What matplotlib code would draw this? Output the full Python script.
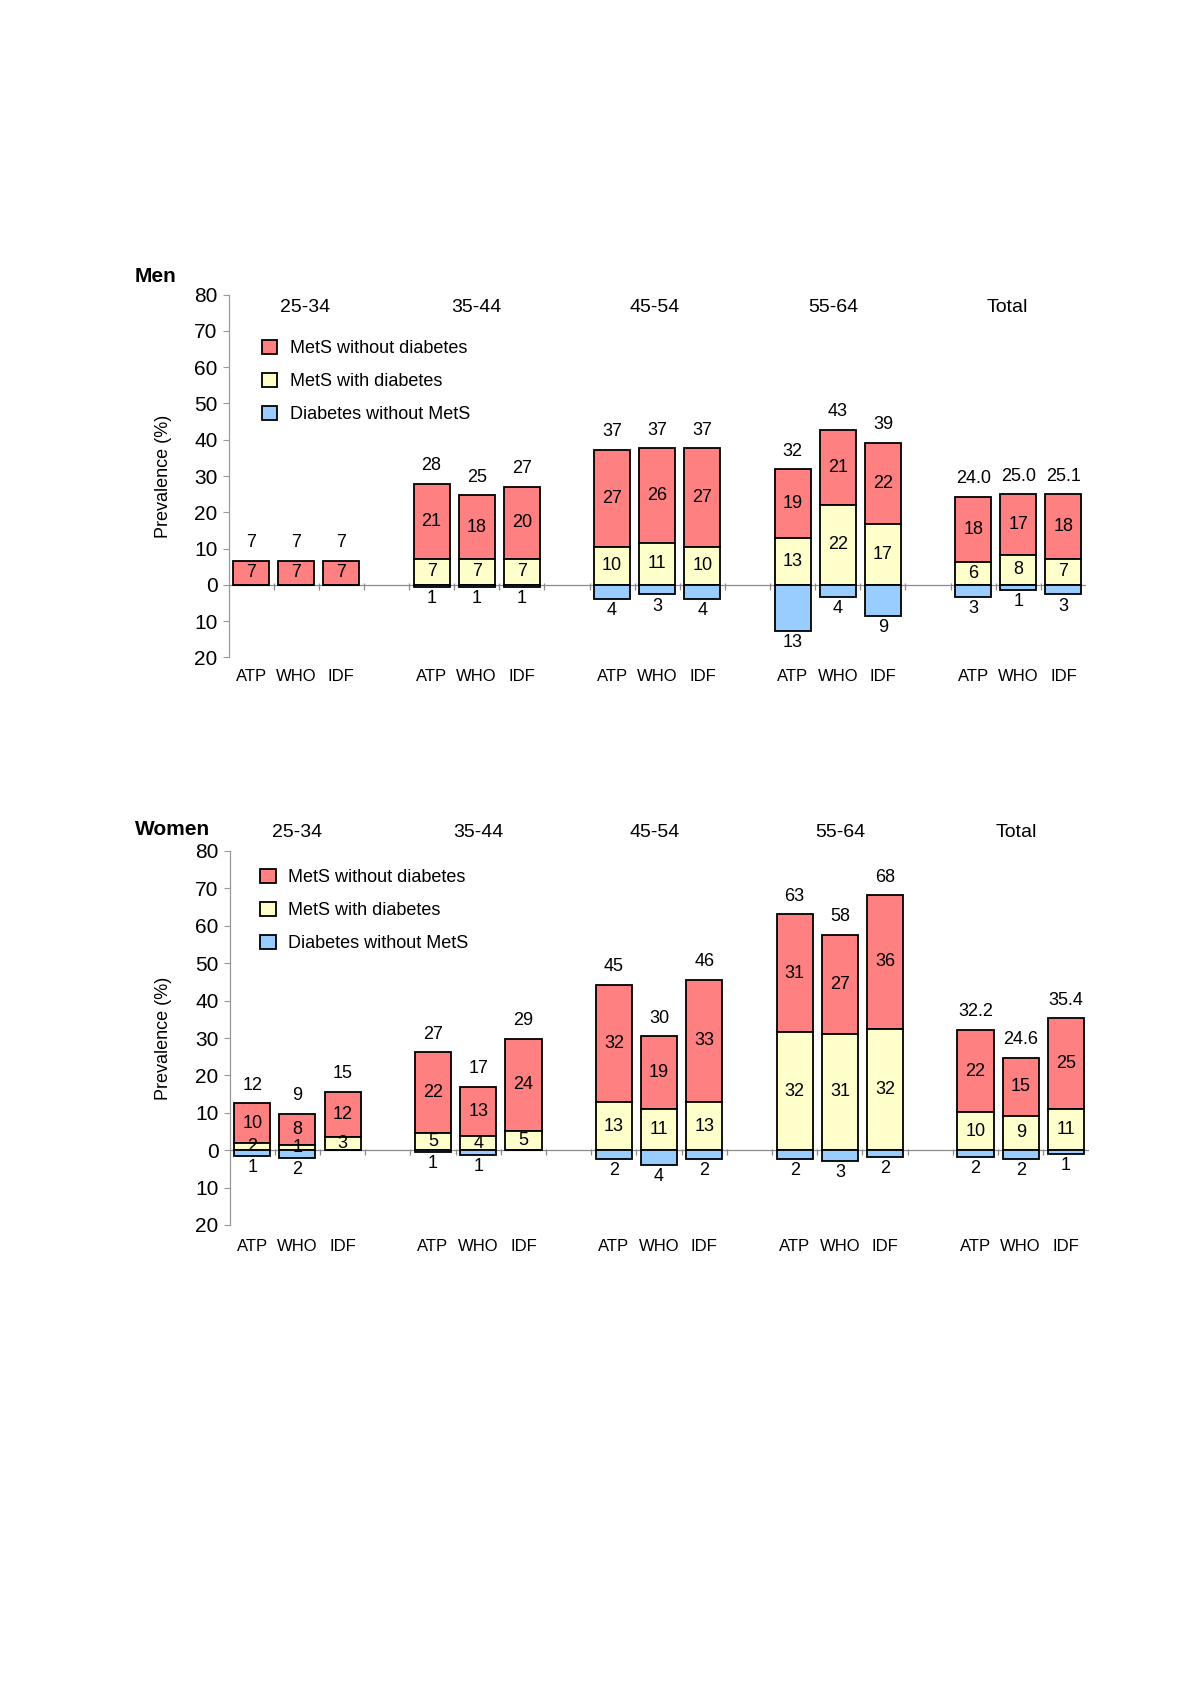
import matplotlib.pyplot as plt
import numpy as np

plt.rcParams['font.family'] = ['Liberation Sans', 'DejaVu Sans']

age_groups = ['25-34', '35-44', '45-54', '55-64', 'Total']
criteria = ['ATP', 'WHO', 'IDF']
series_names = ['MetS without diabetes', 'MetS with diabetes', 'Diabetes without MetS']
colors = ['#FF8080', '#FFFFCC', '#99CCFF']

# Men: segment heights (ATP, WHO, IDF per age group)
men_mets_nodiab = [6.7, 6.7, 6.7, 20.7, 17.6, 20.0, 26.8, 26.1, 27.2, 19.1, 20.8, 22.4, 18.0, 16.7, 17.8]
men_mets_diab = [0, 0, 0, 7.1, 7.1, 7.1, 10.4, 11.5, 10.4, 12.8, 22.0, 16.8, 6.2, 8.3, 7.2]
men_diab_nomets = [0, 0, 0, 0.5, 0.5, 0.5, 3.9, 2.6, 3.9, 12.7, 3.4, 8.6, 3.4, 1.4, 2.6]
# printed labels
men_lab_nodiab = ['7', '7', '7', '21', '18', '20', '27', '26', '27', '19', '21', '22', '18', '17', '18']
men_lab_diab = ['', '', '', '7', '7', '7', '10', '11', '10', '13', '22', '17', '6', '8', '7']
men_lab_nomets = ['', '', '', '1', '1', '1', '4', '3', '4', '13', '4', '9', '3', '1', '3']
men_lab_total = ['7', '7', '7', '28', '25', '27', '37', '37', '37', '32', '43', '39', '24.0', '25.0', '25.1']

# Women
women_mets_nodiab = [10.5, 8.4, 12.2, 21.7, 13.1, 24.6, 31.4, 19.6, 32.6, 31.5, 26.4, 35.7, 22.1, 15.5, 24.4]
women_mets_diab = [2.0, 1.4, 3.4, 4.5, 3.8, 5.2, 12.9, 10.9, 12.9, 31.6, 31.2, 32.5, 10.1, 9.2, 10.9]
women_diab_nomets = [1.5, 2.0, 0, 0.4, 1.2, 0, 2.4, 4.0, 2.4, 2.4, 2.8, 1.7, 1.7, 2.4, 1.0]
women_lab_nodiab = ['10', '8', '12', '22', '13', '24', '32', '19', '33', '31', '27', '36', '22', '15', '25']
women_lab_diab = ['2', '1', '3', '5', '4', '5', '13', '11', '13', '32', '31', '32', '10', '9', '11']
women_lab_nomets = ['1', '2', '', '1', '1', '', '2', '4', '2', '2', '3', '2', '2', '2', '1']
women_lab_total = ['12', '9', '15', '27', '17', '29', '45', '30', '46', '63', '58', '68', '32.2', '24.6', '35.4']


def draw_panel(ax, red, yel, blue, lab_red, lab_yel, lab_blue, lab_tot,
               group_y, group_nudge, leg_anchor, xpad):
    red = np.array(red)
    yel = np.array(yel)
    blue = np.array(blue)
    pos = np.array([g * 4 + j for g in range(len(age_groups)) for j in range(len(criteria))])
    kw = dict(width=0.8, edgecolor='black', linewidth=1.3, zorder=3)

    ax.bar(pos, red, bottom=yel, color=colors[0], label=series_names[0], **kw)
    ax.bar(pos, yel, color=colors[1], label=series_names[1], **kw)
    ax.bar(pos, -blue, color=colors[2], label=series_names[2], **kw)

    for i, x in enumerate(pos):
        if lab_red[i]:
            ax.text(x, yel[i] + red[i] / 2, lab_red[i], ha='center', va='center', fontsize=13, zorder=5)
        if lab_yel[i]:
            ax.text(x, yel[i] / 2, lab_yel[i], ha='center', va='center', fontsize=13, zorder=5)
        ax.annotate(lab_tot[i], (x, yel[i] + red[i]), xytext=(0, 13), textcoords='offset points',
                    ha='center', va='center', fontsize=13)
        if lab_blue[i]:
            ax.annotate(lab_blue[i], (x, -blue[i]), xytext=(0, -8.5), textcoords='offset points',
                        ha='center', va='center', fontsize=13)

    ax.axhline(0, color='#8c8c8c', linewidth=0.9, zorder=1)
    bounds = np.arange(0.5, pos.max() + 0.5, 1.0)
    ax.vlines(bounds, -1.3, 0.4, colors='#8c8c8c', linewidth=0.9, zorder=1)

    ax.set_xlim(-0.5, pos.max() + 0.5)
    ax.set_ylim(-20, 80)
    ax.set_xticks(pos)
    ax.set_xticklabels(criteria * len(age_groups), fontsize=12)
    ax.tick_params(axis='x', length=0, pad=xpad)
    ticks = np.arange(-20, 81, 10)
    ax.set_yticks(ticks)
    ax.set_yticklabels([str(abs(t)) for t in ticks], fontsize=15)
    ax.tick_params(axis='y', length=4, width=0.8, color='#999999', pad=4)
    for side in ['top', 'right', 'bottom']:
        ax.spines[side].set_visible(False)
    ax.spines['left'].set_color('#999999')
    ax.spines['left'].set_linewidth(0.9)

    ax.set_ylabel('Prevalence (%)', fontsize=13)

    for g, name in enumerate(age_groups):
        ax.text(g * 4 + 1 + group_nudge[g], group_y, name, ha='center', va='center',
                fontsize=14, clip_on=False)

    ax.legend(loc='upper left', bbox_to_anchor=leg_anchor, frameon=False, fontsize=13,
              handlelength=0.85, handleheight=0.85, handletextpad=0.7,
              labelspacing=0.86, borderpad=0, borderaxespad=0)


fig = plt.figure(figsize=(12, 16.98), dpi=100)

ax_m = fig.add_axes([228.5 / 1200, 1 - 657.4 / 1698, 857.5 / 1200, 362.8 / 1698])
draw_panel(ax_m, men_mets_nodiab, men_mets_diab, men_diab_nomets,
           men_lab_nodiab, men_lab_diab, men_lab_nomets, men_lab_total,
           76.5, [0.2, 0.0, -0.05, -0.1, -0.25], (0.039, 0.875), 8.5)
ax_m.yaxis.set_label_coords(-0.066, 0.5)
fig.text(135 / 1200, 1 - 277 / 1698, 'Men', fontsize=15, fontweight='bold', va='center', ha='left')

ax_w = fig.add_axes([229.6 / 1200, 1 - 1225 / 1698, 858.9 / 1200, 374 / 1698])
draw_panel(ax_w, women_mets_nodiab, women_mets_diab, women_diab_nomets,
           women_lab_nodiab, women_lab_diab, women_lab_nomets, women_lab_total,
           85, [0.0, 0.0, -0.1, 0.0, -0.1], (0.0356, 0.953), 10)
ax_w.yaxis.set_label_coords(-0.0675, 0.5)
fig.text(135 / 1200, 1 - 830 / 1698, 'Women', fontsize=15, fontweight='bold', va='center', ha='left')

fig.savefig('out.png', dpi=100)
